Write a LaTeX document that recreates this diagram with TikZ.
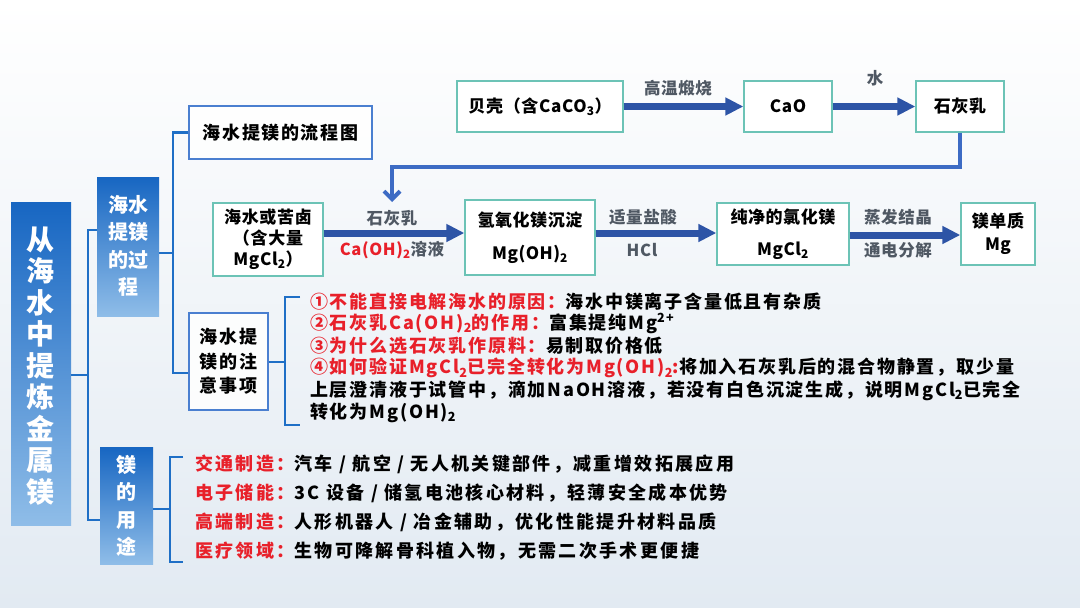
\documentclass[tikz,border=0pt]{standalone}
\usepackage{fontspec}
\setmainfont{Noto Sans CJK SC}
\usetikzlibrary{arrows.meta,calc}
\definecolor{bluebox}{HTML}{1766C2}
\definecolor{bluelight}{HTML}{8FBDE8}
\definecolor{brk}{HTML}{1F6FC6}
\definecolor{frame1}{HTML}{4A7FD0}
\definecolor{teal1}{HTML}{6CC3B6}
\definecolor{arr}{HTML}{2D54A6}
\definecolor{fbc}{HTML}{3D6BC4}
\definecolor{red1}{HTML}{E8202A}
\definecolor{lab}{HTML}{4F5863}
\definecolor{bgc}{HTML}{E2EAF2}
\newcommand{\dn}[1]{\textsubscript{#1}}
\newcommand{\rd}[1]{\textcolor{red1}{#1}}
\begin{document}
\begin{tikzpicture}[x=1pt,y=-1pt,
  br/.style={draw=brk, line width=2.5pt},
  fbox/.style={draw=teal1, line width=1.3pt, fill=white, inner sep=0pt, align=center,
    font=\fontsize{17}{22}\selectfont\bfseries\addfontfeature{LetterSpace=4}},
  wbox/.style={draw=frame1, line width=1.3pt, fill=white, fill opacity=0.85, text opacity=1, inner sep=0pt, align=center,
    font=\fontsize{18}{24}\selectfont\bfseries\addfontfeature{LetterSpace=9}},
  bbox/.style={inner sep=0pt, align=center, text=white, top color=bluebox, middle color=bluebox, bottom color=bluelight},
  flow/.style={draw=arr, line width=7pt, -{Triangle[length=18pt,width=17pt]}},
  fb/.style={draw=fbc, line width=4pt, -{Straight Barb[length=8pt,width=16pt]}},
  lbl/.style={text=lab, font=\fontsize{16.5}{18}\selectfont\bfseries\addfontfeature{LetterSpace=4}, inner sep=0pt},
  note/.style={anchor=west, inner sep=0pt, font=\fontsize{18}{22}\selectfont\bfseries\addfontfeature{LetterSpace=10}},
  use/.style={anchor=west, inner sep=0pt, font=\fontsize{18}{22}\selectfont\bfseries\addfontfeature{LetterSpace=13}},
]
% background
\shade[top color=white, bottom color=bgc] (0,0) rectangle (1080,608);
\useasboundingbox (0,0) rectangle (1080,608);

% left structure
\node[bbox, minimum width=60pt, minimum height=323pt] (tb) at (41,363.5) {};
\node[text=white, align=center, inner sep=0pt, font=\fontsize{28}{31.5}\selectfont\bfseries] (tbt) at (41,366)
  {从\\海\\水\\中\\提\\炼\\金\\属\\镁};
\node[bbox, minimum width=62pt, minimum height=139pt] (pr) at (128,246.5) {};
\node[text=white, align=center, inner sep=0pt, font=\fontsize{20}{27.3}\selectfont\bfseries] (prt) at (128,246)
  {海水\\提镁\\的过\\程};
\node[bbox, minimum width=53pt, minimum height=117pt] (us) at (126.5,505.5) {};
\node[text=white, align=center, inner sep=0pt, font=\fontsize{20}{27.3}\selectfont\bfseries] (ust) at (126.5,506)
  {镁\\的\\用\\途};

\node[wbox, minimum width=183pt, minimum height=53pt] (lc) at (280.5,132.5) {海水提镁的流程图};
\node[wbox, minimum width=79pt, minimum height=97pt, font=\fontsize{18}{24.5}\selectfont\bfseries\addfontfeature{LetterSpace=10}] (zy) at (228.5,361.5) {海水提\\镁的注\\意事项};

% brackets
\coordinate (j1) at (88,375);
\coordinate (b1t) at (88,230);
\coordinate (b1b) at (88,520);
\draw[br] (tb.east|-j1) -- (j1);
\draw[br] (pr.west|-b1t) -- (b1t) -- (b1b) -- (us.west|-b1b);

\coordinate (j2) at (173,253);
\coordinate (b2t) at (173,132.5);
\coordinate (b2b) at (173,373);
\draw[br] (pr.east|-j2) -- (j2);
\draw[br] (lc.west|-b2t) -- (b2t) -- (b2b) -- (zy.west|-b2b);

\coordinate (j3) at (285,362);
\coordinate (b3t) at (285,297);
\coordinate (b3b) at (285,425);
\coordinate (b3te) at (300,297);
\coordinate (b3be) at (300,425);
\draw[br] (zy.east|-j3) -- (j3);
\draw[br] (b3te) -- (b3t) -- (b3b) -- (b3be);

\coordinate (j4) at (170,509);
\coordinate (b4t) at (170,457);
\coordinate (b4b) at (170,562);
\coordinate (b4te) at (183,457);
\coordinate (b4be) at (183,562);
\draw[br] (us.east|-j4) -- (j4);
\draw[br] (b4te) -- (b4t) -- (b4b) -- (b4be);

% flow top row
\node[fbox, minimum width=166pt, minimum height=51pt] (bk) at (540,106.5) {贝壳（含CaCO\dn{3}）};
\node[fbox, minimum width=88pt, minimum height=51pt] (cao) at (788,106.5) {CaO};
\node[fbox, minimum width=88pt, minimum height=51pt] (shi) at (960,106.5) {石灰乳};
\draw[flow] (bk.east) -- (cao.west);
\draw[flow] (cao.east) -- (shi.west);
\node[lbl] (l1) at (678,88) {高温煅烧};
\node[lbl] (l2) at (875,78) {水};

% feedback
\coordinate (fk) at (392,167);
\coordinate (fe) at (392,202);
\draw[fb] (shi.south) |- (fk) -- (fe);

% flow second row
\node[fbox, minimum width=110pt, minimum height=73pt, font=\fontsize{17}{21}\selectfont\bfseries\addfontfeature{LetterSpace=4}] (hs) at (268,239.5) {海水或苦卤\\（含大量\\MgCl\dn{2}）};
\node[fbox, minimum width=130pt, minimum height=75pt, font=\fontsize{17}{33}\selectfont\bfseries\addfontfeature{LetterSpace=3}] (qy) at (530,237.5) {氢氧化镁沉淀\\Mg(OH)\dn{2}};
\node[fbox, minimum width=132pt, minimum height=62pt, font=\fontsize{17}{32}\selectfont\bfseries\addfontfeature{LetterSpace=3}] (cj) at (783,234) {纯净的氯化镁\\MgCl\dn{2}};
\node[fbox, minimum width=74pt, minimum height=62pt, font=\fontsize{17}{23}\selectfont\bfseries\addfontfeature{LetterSpace=3}] (md) at (998,234) {镁单质\\Mg};

\coordinate (r1) at (0,233);
\coordinate (r2) at (0,235);
\draw[flow] (hs.east|-r1) -- (qy.west|-r1);
\draw[flow] (qy.east|-r1) -- (cj.west|-r1);
\draw[flow] (cj.east|-r2) -- (md.west|-r2);

\node[lbl] (l3) at (392,218) {石灰乳};
\node[lbl] (l4) at (392,250) {\rd{Ca(OH)\dn{2}}溶液};
\node[lbl] (l5) at (643,217) {适量盐酸};
\node[lbl] (l6) at (642,250) {HCl};
\node[lbl] (l7) at (898,217) {蒸发结晶};
\node[lbl] (l8) at (898,250) {通电分解};

% notes
\node[note] (n1) at (310,302) {\rd{①不能直接电解海水的原因：}海水中镁离子含量低且有杂质};
\node[note] (n2) at (310,323.5) {\rd{②石灰乳Ca(OH)\dn{2}的作用：}富集提纯Mg\textsuperscript{2+}};
\node[note] (n3) at (310,345.5) {\rd{③为什么选石灰乳作原料：}易制取价格低};
\node[note] (n4) at (310,368) {\rd{④如何验证MgCl\dn{2}已完全转化为Mg(OH)\dn{2}:}将加入石灰乳后的混合物静置，取少量};
\node[note] (n5) at (310,390.5) {上层澄清液于试管中，滴加NaOH溶液，若没有白色沉淀生成，说明MgCl\dn{2}已完全};
\node[note] (n6) at (310,413) {转化为Mg(OH)\dn{2}};

% uses
\node[use] (u1) at (195,464) {\rd{交通制造：}汽车 / 航空 / 无人机关键部件，减重增效拓展应用};
\node[use] (u2) at (195,493) {\rd{电子储能：}3C 设备 / 储氢电池核心材料，轻薄安全成本优势};
\node[use] (u3) at (195,522) {\rd{高端制造：}人形机器人 / 冶金辅助，优化性能提升材料品质};
\node[use] (u4) at (195,551) {\rd{医疗领域：}生物可降解骨科植入物，无需二次手术更便捷};
\end{tikzpicture}
\end{document}
